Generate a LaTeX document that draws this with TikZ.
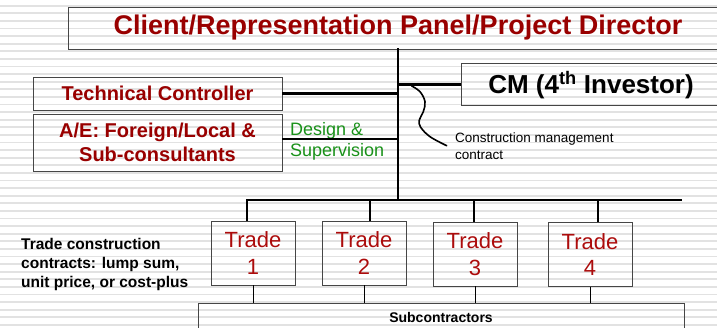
\documentclass[tikz,border=0pt]{standalone}
\usepackage{fontspec}
\setmainfont{Liberation Sans}
\usetikzlibrary{calc}
\definecolor{titlered}{RGB}{153,0,0}
\definecolor{tradered}{RGB}{172,12,12}
\definecolor{dsgreen}{RGB}{25,145,25}
\definecolor{stripegray}{RGB}{226,226,226}
\definecolor{boxgray}{RGB}{70,70,70}
\begin{document}
\begin{tikzpicture}[x=1pt,y=-1pt,
  stripe/.style={draw=stripegray,line width=1.9pt},
  box/.style={draw=boxgray,line width=0.9pt,inner sep=0pt},
  tradebox/.style={box,minimum width=84pt,minimum height=64pt,align=center,
    text=tradered,font=\fontsize{22}{26.5}\selectfont},
  heavy/.style={line width=2.9pt,line cap=rect},
  thin/.style={line width=0.8pt},
  squig/.style={line width=1.6pt,line cap=round},
  redbold/.style={text=titlered,font=\bfseries\fontsize{20}{23.5}\selectfont,align=center,inner sep=0pt}
]
\useasboundingbox (0,0) rectangle (717,328);
% striped background
\fill[white] (0,0) rectangle (717,328);
\foreach \i in {0,...,43}
  \draw[stripe] (0,{5.7+7.6*\i}) -- (717,{5.7+7.6*\i});

% top box
\node[box,anchor=north west,minimum width=700pt,minimum height=42pt] (client) at (68,7) {};
\node[inner sep=0pt,text=titlered,font=\bfseries\fontsize{27}{30}\selectfont] (clienttxt) at (398,27.5)
  {Client/Representation Panel/Project Director};

% left boxes
\node[box,redbold,minimum width=249pt,minimum height=33pt] (tc) at (157.5,93.5) {Technical Controller};
\node[box,redbold,minimum width=249pt,minimum height=57pt] (ae) at (157.5,142.5) {A/E: Foreign/Local \&\\Sub-consultants};

% CM box
\node[box,anchor=north west,minimum width=300pt,minimum height=42pt] (cm) at (461,63) {};
\node[inner sep=0pt,font=\bfseries\fontsize{26}{30}\selectfont] (cmtxt) at (591,85)
  {CM (4\textsuperscript{th} Investor)};

% trade boxes
\node[tradebox] (trade1) at (253,253) {Trade\\1};
\node[tradebox] (trade2) at (364,253) {Trade\\2};
\node[tradebox] (trade3) at (475,254) {Trade\\3};
\node[tradebox] (trade4) at (590,254.5) {Trade\\4};

% subcontractors
\node[box,anchor=north west,minimum width=486pt,minimum height=50pt] (sub) at (198,303) {};
\node[inner sep=0pt,font=\bfseries\fontsize{14}{16}\selectfont] (subtxt) at (441,317) {Subcontractors};

% annotations
\node[anchor=west,inner sep=0pt,align=left,text=dsgreen,font=\fontsize{18}{21}\selectfont] (design) at (290,141)
  {Design \&\\Supervision};
\node[anchor=west,inner sep=0pt,align=left,font=\fontsize{13.5}{17}\selectfont] (cmnote) at (455,146)
  {Construction management\\contract};
\node[anchor=west,inner sep=0pt,align=left,font=\bfseries\fontsize{15.5}{18.7}\selectfont] (tradenote) at (21,264.5)
  {Trade construction\\contracts: lump sum,\\unit price, or cost-plus};

% spine and bar
\coordinate (spine) at (398,200);
\coordinate (barR) at (681,200);
\coordinate (d1) at (247,200);
\coordinate (d2) at (370,200);
\coordinate (d3) at (474,200);
\coordinate (d4) at (598,200);
\draw[heavy] (spine |- client.south) -- (spine);
\draw[heavy] (d1) -- (barR);
\foreach \k in {1,...,4}
  \draw[heavy,line cap=butt] (d\k) -- (d\k |- trade\k.north);

% branches to the side boxes
\draw[heavy,line cap=butt] (tc.east) -- (tc.east -| spine);
\draw[heavy,line cap=butt] ([yshift=3.5pt]ae.east) -- ([yshift=3.5pt]ae.east -| spine);
\draw[heavy,line cap=butt] (cm.west) -- (cm.west -| spine);

% brace pointing at the CM contract
\coordinate (sq0) at (411.7,86);
\draw[squig] plot[smooth,tension=0.6] coordinates
  {(sq0) (420,91.7) (425,101.7) (423.3,111.7) (419.3,120) (420.5,127) (430,136.7) (446.7,145.7)};

% trades to subcontractors
\foreach \k in {1,...,4}
  \draw[thin] (trade\k.south) -- (trade\k.south |- sub.north);
\end{tikzpicture}
\end{document}
